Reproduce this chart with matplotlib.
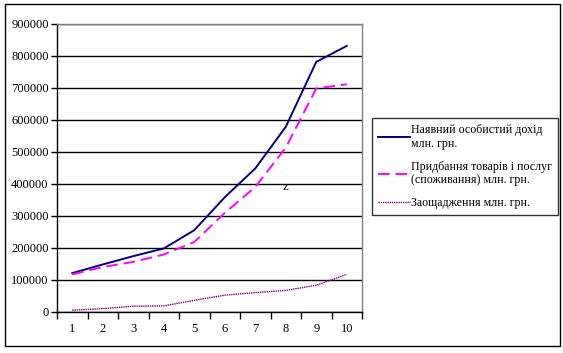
import numpy as np
import matplotlib.pyplot as plt
from matplotlib.patches import Rectangle
from matplotlib.ticker import FixedLocator, NullFormatter

plt.rcParams['font.family'] = ['Liberation Serif', 'DejaVu Serif']

# chart data (values in млн. грн.)
years = list(range(1, 11))
income = [120000, 147000, 173000, 197000, 254000, 357000, 447000, 577000, 780000, 830000]
consumption = [116000, 139000, 155000, 178000, 217000, 308000, 389000, 512000, 697000, 710000]
savings = [4000, 9000, 16500, 17500, 35000, 51000, 59000, 66000, 82000, 116000]

labels = ['Наявний особистий дохід\nмлн. грн.',
          'Придбання товарів і послуг\n(споживання) млн. грн.',
          'Заощадження млн. грн.']

W, H = 563, 353
fig = plt.figure(figsize=(W / 100, H / 100), dpi=100)

# outer chart border
fig.patches.append(Rectangle((5 / W, 1 - 346 / H), 555 / W, 342 / H,
                             transform=fig.transFigure, fill=False,
                             edgecolor='black', linewidth=1))

ax = fig.add_axes([57 / W, 1 - 311.5 / H, 305 / W, 288 / H])

ax.plot(years, income, color='#000080', linewidth=1.4, label=labels[0])
ax.plot(years, consumption, color='#FF00FF', linewidth=1.4,
        linestyle=(0, (6, 3)), label=labels[1])
ax.plot(years, savings, color='#800080', linewidth=1.0,
        linestyle=(0, (1, 0.6)), label=labels[2])

ax.text(8.0, 390000, 'z', fontsize=9, ha='center', va='center')

ax.set_xlim(0.5, 10.5)
ax.set_ylim(0, 900000)
ax.yaxis.set_major_locator(FixedLocator(np.arange(0, 900001, 100000)))
ax.xaxis.set_major_locator(FixedLocator(np.arange(0.5, 10.6, 1)))
ax.xaxis.set_major_formatter(NullFormatter())
ax.xaxis.set_minor_locator(FixedLocator(years))
ax.set_xticklabels([str(y) for y in years], minor=True)
ax.tick_params(axis='x', which='major', direction='out', length=5, width=1)
ax.tick_params(axis='x', which='minor', length=0, pad=8, labelsize=9)
ax.tick_params(axis='y', direction='out', length=4, width=1, labelsize=9, pad=2)

ax.grid(axis='y', color='black', linewidth=1)
ax.set_axisbelow(True)
for side in ['left', 'bottom']:
    ax.spines[side].set_color('black')
    ax.spines[side].set_linewidth(1)
for side in ['top', 'right']:
    ax.spines[side].set_color('#808080')
    ax.spines[side].set_linewidth(1)

leg = fig.legend(loc='upper left', bbox_to_anchor=(372 / W, 1 - 118 / H),
                 fontsize=8.6, frameon=True, fancybox=False, edgecolor='black',
                 handlelength=2.7, handletextpad=0.1, borderpad=0.5,
                 labelspacing=0.9, borderaxespad=0)
leg.get_frame().set_linewidth(1)

fig.savefig('out.png', dpi=100)
